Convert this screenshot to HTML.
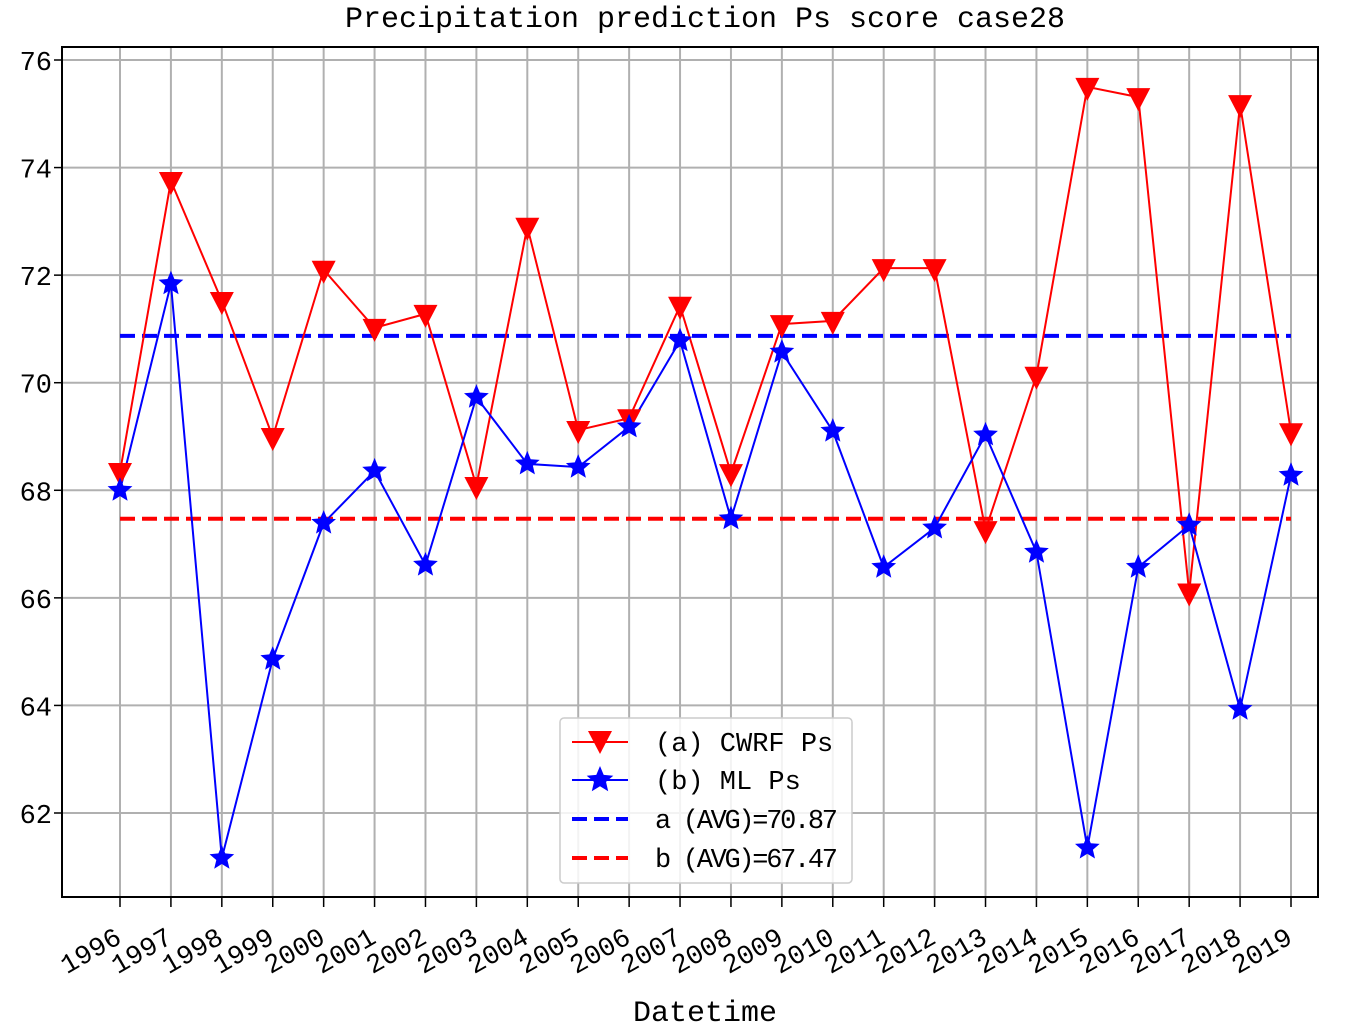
<!DOCTYPE html>
<html><head><meta charset="utf-8">
<style>
html,body{margin:0;padding:0;background:#fff;}
svg text{font-family:"Liberation Mono","WenQuanYi Zen Hei",monospace;fill:#000;}
</style></head>
<body>
<svg id="chart" width="1355" height="1027" viewBox="0 0 1355 1027" xmlns="http://www.w3.org/2000/svg">
<g id="grid"></g>
<g id="series"></g>
<g id="axes"></g>
<text x="705" y="27" text-anchor="middle" font-size="30">Precipitation prediction Ps score case28</text>
<text x="705" y="1021" text-anchor="middle" font-size="30">Datetime</text>
<g>
<rect x="560" y="718" width="292" height="165" rx="4" fill="#fff" fill-opacity="0.85" stroke="#ccc" stroke-width="1.5"/>
<g>
<line x1="572" y1="742" x2="628" y2="742" stroke="#f00" stroke-width="2"/>
<path d="M588,731 L612,731 L600,754 Z" fill="#f00"/>
<text x="655" y="751" font-size="27">(a) CWRF Ps</text></g>
<g>
<line x1="572" y1="780" x2="628" y2="780" stroke="#00f" stroke-width="2"/>
<path id="legstar" fill="#00f"/>
<text x="655" y="789" font-size="27">(b) ML Ps</text></g>
<g>
<line x1="572" y1="819" x2="628" y2="819" stroke="#00f" stroke-width="4" stroke-dasharray="15,7"/>
<text x="655" y="828" font-size="27" textLength="183">a (AVG)=70.87</text></g>
<g>
<line x1="572" y1="858" x2="628" y2="858" stroke="#f00" stroke-width="4" stroke-dasharray="15,7"/>
<text x="655" y="867" font-size="27" textLength="183">b (AVG)=67.47</text></g>
</g>
</svg>
<script>
const years = [1996,1997,1998,1999,2000,2001,2002,2003,2004,2005,2006,2007,2008,2009,2010,2011,2012,2013,2014,2015,2016,2017,2018,2019];
const cwrfPs = [68.34,73.75,71.52,68.99,72.1,71.02,71.28,68.08,72.9,69.12,69.34,71.43,68.32,71.09,71.15,72.13,72.13,67.26,70.13,75.5,75.31,66.1,75.18,69.08];
const mlPs = [68.0,71.84,61.16,64.86,67.39,68.36,66.61,69.73,68.49,68.43,69.18,70.78,67.47,70.57,69.1,66.57,67.3,69.03,66.85,61.35,66.57,67.35,63.93,68.28];
const avgA = 70.87;
const avgB = 67.47;
const yTicks = [62,64,66,68,70,72,74,76];

const NS="http://www.w3.org/2000/svg";
const L=62,R=1318,T=47,B=897;
function xs(i){return 120+i*(1291-120)/(years.length-1);}
function ys(v){return 60+(76-v)*(813-60)/14;}
function mk(tag,attrs,parent){const e=document.createElementNS(NS,tag);for(const k in attrs)e.setAttribute(k,attrs[k]);parent.appendChild(e);return e;}
function star(cx,cy,r){let p=[];for(let k=0;k<10;k++){const a=-Math.PI/2+k*Math.PI/5;const rr=k%2?r*0.45:r;p.push((cx+rr*Math.cos(a)).toFixed(1)+','+(cy+rr*Math.sin(a)).toFixed(1));}return 'M'+p.join(' L')+' Z';}
document.getElementById('legstar').setAttribute('d',star(600,780,14));

const grid=document.getElementById('grid'),ser=document.getElementById('series'),ax=document.getElementById('axes');
years.forEach((y,i)=>{
  const g=mk('line',{x1:xs(i),x2:xs(i),y1:T,y2:B,stroke:'#b0b0b0','stroke-width':2},grid);
  
  
  mk('line',{x1:xs(i),x2:xs(i),y1:B,y2:B+10,stroke:'#000','stroke-width':1.5},ax);
  const ax0=xs(i)+3, ay0=942;
  const t=mk('text',{x:ax0,y:ay0,'font-size':27,'text-anchor':'end',transform:`rotate(-30 ${ax0} ${ay0})`},ax);
  t.textContent=y;
  
  
});
yTicks.forEach(v=>{
  const g=mk('line',{x1:L,x2:R,y1:ys(v),y2:ys(v),stroke:'#b0b0b0','stroke-width':2},grid);
  
  
  mk('line',{x1:L-8,x2:L,y1:ys(v),y2:ys(v),stroke:'#000','stroke-width':1.5},ax);
  const t=mk('text',{x:L-10,y:ys(v)+10,'font-size':27,'text-anchor':'end'},ax);
  t.textContent=v;
  
  
});
const fr=mk('rect',{x:L,y:T,width:R-L,height:B-T,fill:'none',stroke:'#000','stroke-width':2},ax);



const la=mk('line',{x1:xs(0),x2:xs(years.length-1),y1:ys(avgA),y2:ys(avgA),stroke:'#00f','stroke-width':4,'stroke-dasharray':'15,7'},ser);


const lb=mk('line',{x1:xs(0),x2:xs(years.length-1),y1:ys(avgB),y2:ys(avgB),stroke:'#f00','stroke-width':4,'stroke-dasharray':'15,7'},ser);



const rl=mk('polyline',{points:cwrfPs.map((v,i)=>xs(i)+','+ys(v)).join(' '),fill:'none',stroke:'#f00','stroke-width':2},ser);


const bl=mk('polyline',{points:mlPs.map((v,i)=>xs(i)+','+ys(v)).join(' '),fill:'none',stroke:'#00f','stroke-width':2},ser);


cwrfPs.forEach((v,i)=>{
  const x=xs(i),y=ys(v);
  const p=mk('path',{d:`M${x-12},${y-9} L${x+12},${y-9} L${x},${y+14} Z`,fill:'#f00'},ser);
  
  
});
mlPs.forEach((v,i)=>{
  const p=mk('path',{d:star(xs(i),ys(v),13),fill:'#00f'},ser);
  
  
});
</script>
</body></html>
